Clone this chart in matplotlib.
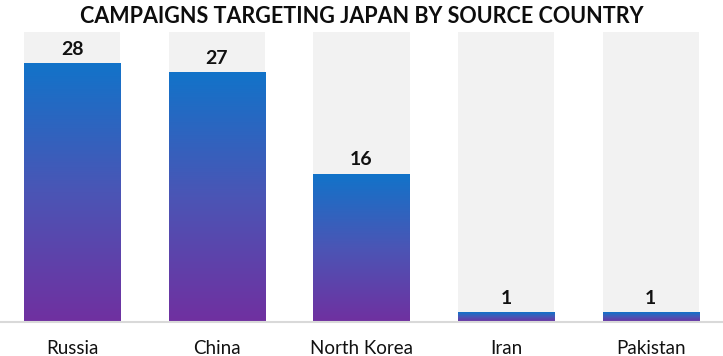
import numpy as np
import matplotlib.pyplot as plt
from matplotlib.colors import LinearSegmentedColormap

countries = ["Russia", "China", "North Korea", "Iran", "Pakistan"]
campaigns = [28, 27, 16, 1, 1]

plt.rcParams['font.family'] = ['Lato', 'DejaVu Sans']

fig = plt.figure(figsize=(7.23, 3.56), dpi=100)
ax = fig.add_axes([0, 34 / 356, 1, 1 - 66 / 356])

top = max(campaigns) * 1.12
width = 0.665
cmap = LinearSegmentedColormap.from_list('bar', ['#7030A0', '#4B55B5', '#1273C9'])
grad = np.linspace(0, 1, 256).reshape(-1, 1)

x = np.arange(len(countries))
ax.bar(x, [top] * len(x), width=width, color='#F2F2F2', zorder=1)

for xi, v in zip(x, campaigns):
    ax.imshow(grad, cmap=cmap, origin='lower', aspect='auto',
              extent=(xi - width / 2, xi + width / 2, 0, v), zorder=2)
    ax.text(xi, v + 0.6, str(v), ha='center', va='bottom',
            fontsize=14, fontweight='bold', color='#111111', zorder=3)

ax.set_xlim(-0.5, len(x) - 0.5)
ax.set_ylim(0, top)
ax.set_xticks(x)
ax.set_xticklabels(countries, fontsize=13.5, color='#111111')
ax.tick_params(axis='x', length=0, pad=13)
ax.set_yticks([])
for s in ['top', 'left', 'right']:
    ax.spines[s].set_visible(False)
ax.spines['bottom'].set_color('#D9D9D9')
ax.spines['bottom'].set_linewidth(1.5)

fig.text(0.5, 0.955, 'CAMPAIGNS TARGETING JAPAN BY SOURCE COUNTRY',
         ha='center', va='center', fontsize=15.5, fontweight='bold', color='#0D0D0D')

fig.savefig('out.png', dpi=100)
